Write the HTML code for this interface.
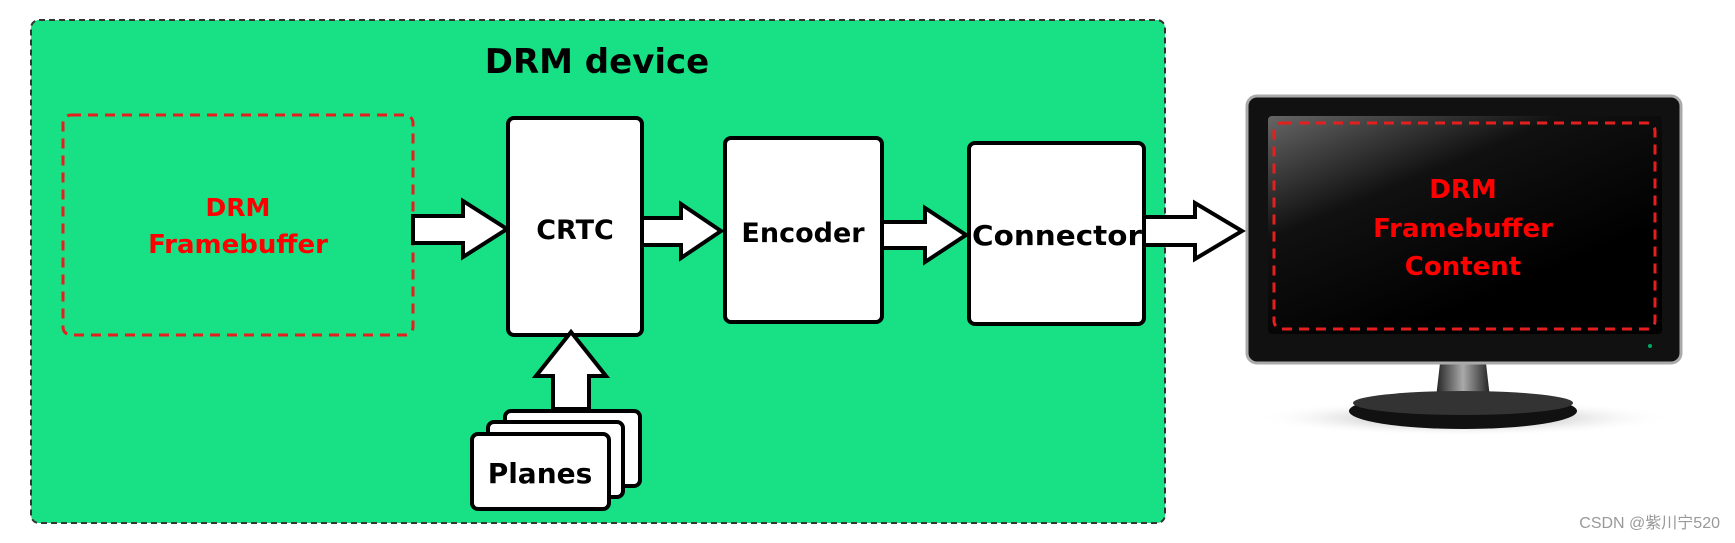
<!DOCTYPE html>
<html><head><meta charset="utf-8"><style>
html,body{margin:0;padding:0;background:#fff;}
svg{display:block;}
text{font-family:"DejaVu Sans","Liberation Sans",sans-serif;font-weight:bold;}
</style></head><body>
<svg width="1735" height="543" viewBox="0 0 1735 543" xmlns="http://www.w3.org/2000/svg">
<defs>
<linearGradient id="scr" x1="0" y1="0" x2="0.6" y2="0.8">
<stop offset="0" stop-color="#666"/><stop offset="0.45" stop-color="#111"/><stop offset="1" stop-color="#000"/>
</linearGradient>
<radialGradient id="sh" cx="0.5" cy="0.5" r="0.5">
<stop offset="0" stop-color="#888"/><stop offset="1" stop-color="#fff" stop-opacity="0"/>
</radialGradient>
<linearGradient id="neck" x1="0" x2="1"><stop offset="0" stop-color="#222"/><stop offset="0.5" stop-color="#aaa"/><stop offset="1" stop-color="#222"/></linearGradient>
</defs>
<rect x="31" y="20" width="1134" height="503" rx="8" fill="#17e184" stroke="#333" stroke-width="2" stroke-dasharray="6,4"/>
<text x="597" y="73" font-size="34" text-anchor="middle" fill="#000">DRM device</text>
<rect x="63" y="115" width="350" height="220" rx="8" fill="none" stroke="#e51e1e" stroke-width="3" stroke-dasharray="10,7"/>
<text x="238" y="216" font-size="25" text-anchor="middle" fill="#f00">DRM</text>
<text x="238" y="253" font-size="26" text-anchor="middle" fill="#f00">Framebuffer</text>
<g fill="#fff" stroke="#000" stroke-width="4" stroke-linejoin="miter">
<polygon points="413,216 463,216 463,201 507,229 463,257 463,243 413,243"/>
<rect x="508" y="118" width="134" height="217" rx="6"/>
<polygon points="642,218 681,218 681,204 721,231 681,258 681,245 642,245"/>
<rect x="725" y="138" width="157" height="184" rx="6"/>
<polygon points="882,222 925,222 925,208 966,235 925,262 925,248 882,248"/>
<rect x="969" y="143" width="175" height="181" rx="6"/>
<polygon points="1144,217 1195,217 1195,203 1242,231 1195,259 1195,245 1144,245"/>
<polygon points="553,409 553,376 536,376 571,332 606,376 589,376 589,409"/>
<rect x="505" y="411" width="135" height="75" rx="6"/>
<rect x="488" y="422" width="135" height="75" rx="6"/>
<rect x="472" y="434" width="137" height="75" rx="6"/>
</g>
<text x="575" y="239" font-size="27" text-anchor="middle" fill="#000">CRTC</text>
<text x="803" y="242" font-size="27" text-anchor="middle" fill="#000">Encoder</text>
<text x="1057" y="245" font-size="28" text-anchor="middle" fill="#000" textLength="170" lengthAdjust="spacingAndGlyphs">Connector</text>
<text x="540" y="483" font-size="28" text-anchor="middle" fill="#000">Planes</text>
<ellipse cx="1463" cy="418" rx="210" ry="18" fill="url(#sh)"/>
<path d="M1440 363 L1486 363 L1490 398 L1436 398 Z" fill="url(#neck)"/>
<ellipse cx="1463" cy="411" rx="114" ry="18" fill="#111"/>
<ellipse cx="1463" cy="403" rx="110" ry="12" fill="#333"/>
<rect x="1247" y="96" width="434" height="267" rx="10" fill="#111" stroke="#aaa" stroke-width="3"/>
<rect x="1268" y="116" width="394" height="218" rx="4" fill="url(#scr)"/>
<rect x="1274" y="123" width="381" height="206" rx="8" fill="none" stroke="#e51e1e" stroke-width="3" stroke-dasharray="10,7"/>
<circle cx="1650" cy="346" r="2" fill="#0a6"/>
<text x="1463" y="198" font-size="26" text-anchor="middle" fill="#f00">DRM</text>
<text x="1463" y="237" font-size="26" text-anchor="middle" fill="#f00">Framebuffer</text>
<text x="1463" y="275" font-size="26" text-anchor="middle" fill="#f00">Content</text>
<text x="1720" y="528" font-size="16" text-anchor="end" fill="#999" style="font-weight:normal;font-family:'Liberation Sans','Noto Sans CJK SC',sans-serif">CSDN @紫川宁520</text>
</svg>
</body></html>
